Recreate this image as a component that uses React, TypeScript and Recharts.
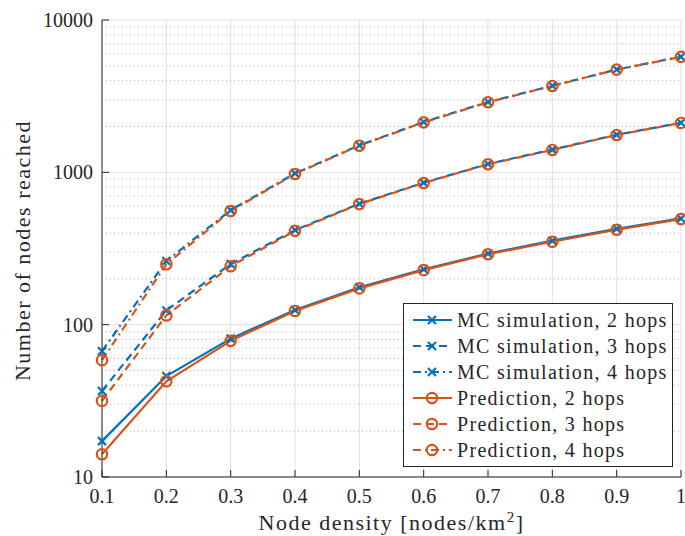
import React from 'react';
import { LineChart, Line, XAxis, YAxis, CartesianGrid, Legend, ReferenceLine } from 'recharts';

const density = [0.1, 0.2, 0.3, 0.4, 0.5, 0.6, 0.7, 0.8, 0.9, 1.0];
const mc2 = [17.2, 46, 81, 125, 176, 231, 293, 356, 426, 498];
const mc3 = [36.7, 124, 250, 418, 622, 855, 1135, 1410, 1765, 2115];
const mc4 = [67, 262, 565, 985, 1505, 2140, 2895, 3700, 4730, 5740];
const pred2 = [14.1, 42.5, 78.3, 123, 173, 228, 290, 350, 420, 493];
const pred3 = [31.6, 115, 242, 413, 619, 851, 1130, 1403, 1759, 2109];
const pred4 = [58.5, 249, 557, 975, 1496, 2128, 2884, 3690, 4720, 5730];

const xTicks = [0.1, 0.2, 0.3, 0.4, 0.5, 0.6, 0.7, 0.8, 0.9, 1];
const yTicks = [10, 100, 1000, 10000];
const yMinorTicks = [20, 30, 40, 50, 60, 70, 80, 90, 200, 300, 400, 500, 600, 700, 800, 900, 2000, 3000, 4000, 5000, 6000, 7000, 8000, 9000];

const BLUE = '#0072BD';
const ORANGE = '#D95319';
const AXIS = '#262626';
const FONT = '"Liberation Serif", "Times New Roman", serif';

const data = density.map((d, i) => ({
  d,
  mc2: mc2[i], mc3: mc3[i], mc4: mc4[i],
  pred2: pred2[i], pred3: pred3[i], pred4: pred4[i],
}));

const series = [
  { key: 'mc2', name: 'MC simulation, 2 hops', color: BLUE, dash: undefined, marker: 'x' },
  { key: 'mc3', name: 'MC simulation, 3 hops', color: BLUE, dash: '8 5', marker: 'x' },
  { key: 'mc4', name: 'MC simulation, 4 hops', color: BLUE, dash: '8 4 2 4', marker: 'x' },
  { key: 'pred2', name: 'Prediction, 2 hops', color: ORANGE, dash: undefined, marker: 'o' },
  { key: 'pred3', name: 'Prediction, 3 hops', color: ORANGE, dash: '8 5', marker: 'o' },
  { key: 'pred4', name: 'Prediction, 4 hops', color: ORANGE, dash: '8 4 2 4', marker: 'o' },
];

function Marker({ cx, cy, color, type }: any) {
  if (cx == null || cy == null) return null;
  if (type === 'x') {
    const s = 4;
    return (
      <path
        d={`M${cx - s},${cy - s}L${cx + s},${cy + s}M${cx - s},${cy + s}L${cx + s},${cy - s}`}
        stroke={color} strokeWidth={2.2} strokeDasharray="none" fill="none"
      />
    );
  }
  return <circle cx={cx} cy={cy} r={5.2} stroke={color} strokeWidth={2.2} strokeDasharray="none" fill="none" />;
}

// tick renderer that draws no label (tick lines still drawn)
const NoLabel = () => <g />;

function LegendBox() {
  return (
    <div style={{ border: `1px solid ${AXIS}`, background: '#fff', padding: '3px 6px 3px 8px', fontFamily: FONT, fontSize: 20, letterSpacing: 1.3, color: '#262626', width: 254 }}>
      {series.map((s) => (
        <div key={s.key} style={{ display: 'flex', alignItems: 'center', height: 26 }}>
          <svg width={45} height={16} style={{ flex: 'none' }}>
            <line x1={1} y1={8} x2={40} y2={8} stroke={s.color} strokeWidth={2.2} strokeDasharray={s.dash} />
            <Marker cx={20} cy={8} color={s.color} type={s.marker} />
          </svg>
          <span style={{ whiteSpace: 'nowrap', lineHeight: '26px' }}>{s.name}</span>
        </div>
      ))}
    </div>
  );
}

const XTitle = ({ viewBox }: any) => {
  const { x, y, width } = viewBox;
  return (
    <text x={x + width / 2} y={y + 53} textAnchor="middle" fontFamily={FONT} fontSize={22} letterSpacing={1.5} fill={AXIS}>
      <tspan>Node density [nodes/km</tspan>
      <tspan dy={-8} fontSize={15}>2</tspan>
      <tspan dy={8}>]</tspan>
    </text>
  );
};

const YTitle = ({ viewBox }: any) => {
  const { x, y, height } = viewBox;
  const cx = x + 30;
  const cy = y + height / 2 + 2;
  return (
    <text x={cx} y={cy} transform={`rotate(-90 ${cx} ${cy})`} textAnchor="middle" fontFamily={FONT} fontSize={22} letterSpacing={1.5} fill={AXIS}>
      Number of nodes reached
    </text>
  );
};

const tickStyle = { fontFamily: FONT, fontSize: 20, fill: AXIS };
const fmtX = (v: number) => (v === 1 ? '1' : v.toFixed(1));

export default function App() {
  return (
    <div style={{ position: 'absolute', left: 0, top: 0, width: 685, height: 536, background: '#fff' }}>
      <LineChart width={685} height={536} data={data} margin={{ top: 20, right: 4, bottom: 0, left: 0 }}>
        <XAxis
          dataKey="d" type="number" domain={[0.1, 1]} ticks={xTicks} interval={0}
          tickFormatter={fmtX} height={59} tick={tickStyle}
          stroke={AXIS} tickSize={-7} tickMargin={19} label={<XTitle />}
        />
        <XAxis
          xAxisId="top" orientation="top" dataKey="d" type="number" domain={[0.1, 1]}
          ticks={xTicks} interval={0} height={0} tick={<NoLabel />} stroke={AXIS} tickSize={-7}
        />
        <YAxis
          yAxisId="minorL" scale="log" domain={[10, 10000]} allowDataOverflow ticks={yMinorTicks}
          interval={0} width={0} tick={<NoLabel />} axisLine={false} stroke={AXIS} tickSize={-4}
        />
        <YAxis
          scale="log" domain={[10, 10000]} allowDataOverflow ticks={yTicks} interval={0}
          width={102} tick={tickStyle} stroke={AXIS} tickSize={-7} tickMargin={16} label={<YTitle />}
        />
        <YAxis
          yAxisId="minorR" orientation="right" scale="log" domain={[10, 10000]} allowDataOverflow
          ticks={yMinorTicks} interval={0} width={0} tick={<NoLabel />} axisLine={false} stroke={AXIS} tickSize={-4}
        />
        <YAxis
          yAxisId="right" orientation="right" scale="log" domain={[10, 10000]} allowDataOverflow
          ticks={yTicks} interval={0} width={0} tick={<NoLabel />} stroke={AXIS} tickSize={-7}
        />
        <CartesianGrid stroke="#e0e0e0" />
        {yMinorTicks.map((v) => (
          <ReferenceLine key={v} y={v} stroke="#b4b4b4" strokeDasharray="1 3" strokeWidth={1} />
        ))}
        {series.map((s) => (
          <Line
            key={s.key}
            dataKey={s.key}
            name={s.name}
            stroke={s.color}
            strokeWidth={2.2}
            strokeDasharray={s.dash}
            isAnimationActive={false}
            dot={(p: any) => <Marker key={`${s.key}-${p.index}`} cx={p.cx} cy={p.cy} color={s.color} type={s.marker} />}
            activeDot={false}
          />
        ))}
        <Legend
          layout="vertical" align="center" verticalAlign="middle"
          content={<LegendBox />}
          wrapperStyle={{ left: 403, top: 303, width: 'auto', height: 'auto' }}
        />
      </LineChart>
    </div>
  );
}
